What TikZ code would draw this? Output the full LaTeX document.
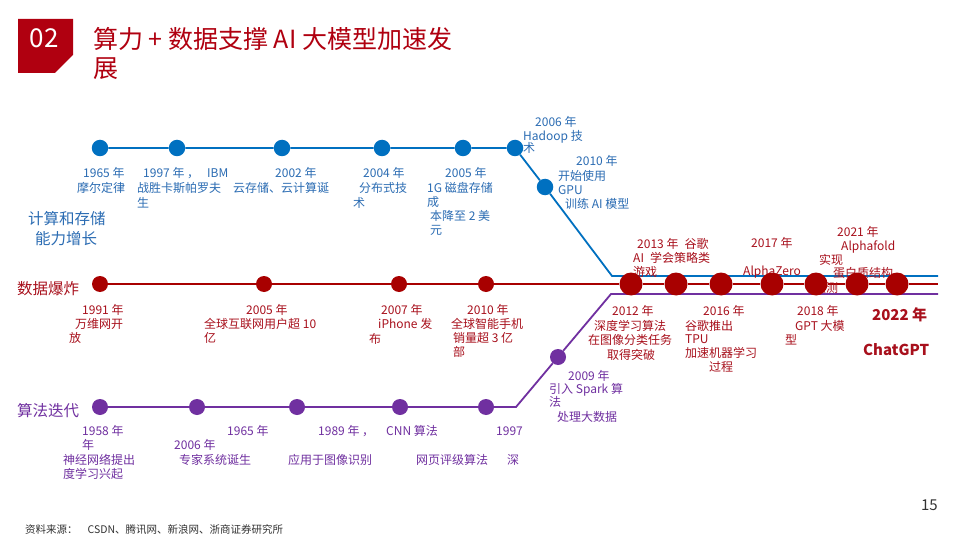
\documentclass[tikz,border=0pt]{standalone}
\usepackage{fontspec}
\setmainfont{Noto Sans CJK SC}
\pgfdeclarelayer{bg}
\pgfsetlayers{bg,main}
\definecolor{cblue}{HTML}{0070C0}
\definecolor{cbluetext}{HTML}{2B6CB3}
\definecolor{cred}{HTML}{A80000}
\definecolor{credtext}{HTML}{A8101C}
\definecolor{cpurple}{HTML}{7030A0}
\definecolor{ctitle}{HTML}{B00010}
\definecolor{cgray}{HTML}{333333}
\begin{document}
\begin{tikzpicture}[x=1pt,y=-1pt,
  lbl/.style={anchor=base west, inner sep=0pt, font=\fontsize{12}{14}\selectfont},
  bl/.style={lbl, text=cbluetext},
  rl/.style={lbl, text=credtext},
  pl/.style={lbl, text=cpurple},
  side/.style={anchor=base west, inner sep=0pt, font=\fontsize{15.5}{18}\selectfont},
  dotb/.style={circle, fill=cblue, minimum size=16.5pt, inner sep=0pt},
  dotr/.style={circle, fill=cred, minimum size=16pt, inner sep=0pt},
  dotbig/.style={circle, fill=cred, minimum size=23pt, inner sep=0pt},
  dotp/.style={circle, fill=cpurple, minimum size=16pt, inner sep=0pt},
  lineb/.style={draw=cblue, line width=1.8pt},
  liner/.style={draw=cred, line width=1.8pt},
  linep/.style={draw=cpurple, line width=1.8pt}]
\useasboundingbox (0,0) rectangle (960,540);
\begin{pgfonlayer}{bg}
\fill[white] (0,0) rectangle (960,540);
\end{pgfonlayer}

% header
\fill[ctitle] (18,19) -- (73,19) -- (73,55) -- (55,73) -- (18,73) -- cycle;
\node[text=white, inner sep=0pt, font=\fontsize{26}{30}\selectfont] (num) at (44,38) {02};
\node[anchor=base west, inner sep=0pt, text=ctitle, font=\fontsize{25}{28}\selectfont] (title1) at (93,49) {算力 + 数据支撑 AI 大模型加速发};
\node[anchor=base west, inner sep=0pt, text=ctitle, font=\fontsize{25}{28}\selectfont] (title2) at (93,78) {展};

% side labels
\node[side, text=cbluetext] (s1a) at (28,224) {计算和存储};
\node[side, text=cbluetext] (s1b) at (35,244) {能力增长};
\node[side, text=credtext] (s2) at (17,294) {数据爆炸};
\node[side, text=cpurple] (s3) at (17,416) {算法迭代};

% blue labels
\node[bl] (b1a) at (83,177.5) {1965 年};
\node[bl] (b1b) at (77,192.5) {摩尔定律};
\node[bl] (b2a) at (143,177.5) {1997 年 ，\hspace{8pt}IBM};
\node[bl] (b2b) at (137,192.5) {战胜卡斯帕罗夫};
\node[bl] (b2c) at (137,207.5) {生};
\node[bl] (b3a) at (275,177.5) {2002 年};
\node[bl] (b3b) at (233,192.5) {云存储、云计算诞};
\node[bl] (b4a) at (363,177.5) {2004 年};
\node[bl] (b4b) at (359,192.5) {分布式技};
\node[bl] (b4c) at (353,207.5) {术};
\node[bl] (b5a) at (445,177.5) {2005 年};
\node[bl] (b5b) at (427,192.5) {1G 磁盘存储};
\node[bl] (b5c) at (427,206.5) {成};
\node[bl] (b5d) at (430,220.5) {本降至 2 美};
\node[bl] (b5e) at (430,234.5) {元};
\node[bl] (b6a) at (535,126.5) {2006 年};
\node[bl] (b6b) at (523,140.5) {Hadoop 技};
\node[bl] (b6c) at (523,152.5) {术};
\node[bl] (b7a) at (576,166) {2010 年};
\node[bl] (b7b) at (558,180) {开始使用};
\node[bl] (b7c) at (558,194) {GPU};
\node[bl] (b7d) at (565,208.5) {训练 AI 模型};

% red labels
\node[rl] (r1a) at (82,314.5) {1991 年};
\node[rl] (r1b) at (75,328.5) {万维网开};
\node[rl] (r1c) at (69,342.5) {放};
\node[rl] (r2a) at (246,314.5) {2005 年};
\node[rl] (r2b) at (204,328.5) {全球互联网用户超 10};
\node[rl] (r2c) at (204,342.5) {亿};
\node[rl] (r3a) at (381,314.5) {2007 年};
\node[rl] (r3b) at (378,328.5) {iPhone 发};
\node[rl] (r3c) at (369,343) {布};
\node[rl] (r4a) at (467,314.5) {2010 年};
\node[rl] (r4b) at (451,328.5) {全球智能手机};
\node[rl] (r4c) at (453,342.5) {销量超 3 亿};
\node[rl] (r4d) at (453,356.5) {部};
\node[rl] (R2a) at (637,248.5) {2013 年\hspace{6pt}谷歌};
\node[rl] (R2b) at (633,262.5) {AI\hspace{6pt}学会策略类};
\node[rl] (R2c) at (633,276.5) {游戏};
\node[rl] (R4a) at (751,247.5) {2017 年};
\node[rl] (R4b) at (743,275.5) {AlphaZero};
\node[rl] (R6a) at (837,236.5) {2021 年};
\node[rl] (R6b) at (841,250.5) {Alphafold};
\node[rl] (R6c) at (819,264.5) {实现};
\node[rl] (R6d) at (833,277.5) {蛋白质结构};
\node[rl] (R6e) at (814,292) {预测};
\node[rl] (R1a) at (612,315.5) {2012 年};
\node[rl] (R1b) at (594,330.5) {深度学习算法};
\node[rl] (R1c) at (588,344.5) {在图像分类任务};
\node[rl] (R1d) at (607,359) {取得突破};
\node[rl] (R3a) at (703,315.5) {2016 年};
\node[rl] (R3b) at (685,330) {谷歌推出};
\node[rl] (R3c) at (685,343) {TPU};
\node[rl] (R3d) at (685,357.5) {加速机器学习};
\node[rl] (R3e) at (709,371.5) {过程};
\node[rl] (R5a) at (797,315.5) {2018 年};
\node[rl] (R5b) at (795,330.5) {GPT 大模};
\node[rl] (R5c) at (785,344.5) {型};
\node[rl, font=\fontsize{15}{18}\selectfont\bfseries] (R7a) at (872,320.5) {2022 年};
\node[rl, font=\fontsize{15}{18}\selectfont\bfseries] (R7b) at (863,355.5) {ChatGPT};

% purple labels
\node[pl] (p1a) at (82,435.5) {1958 年};
\node[pl] (p1b) at (82,449.5) {年};
\node[pl] (p1c) at (63,464.5) {神经网络提出};
\node[pl] (p1d) at (63,478.5) {度学习兴起};
\node[pl] (p2a) at (174,449.5) {2006 年};
\node[pl] (p2b) at (179,464.5) {专家系统诞生};
\node[pl] (p3a) at (227,435.5) {1965 年};
\node[pl] (p3b) at (318,435.5) {1989 年 ，};
\node[pl] (p3c) at (288,464.5) {应用于图像识别};
\node[pl] (p4a) at (386,435.5) {CNN 算法};
\node[pl] (p4b) at (416,464.5) {网页评级算法};
\node[pl] (p5a) at (496,435.5) {1997};
\node[pl] (p5b) at (507,464.5) {深};
\node[pl] (p6a) at (568,380.5) {2009 年};
\node[pl] (p6b) at (549,393.5) {引入 Spark 算};
\node[pl] (p6c) at (549,406.5) {法};
\node[pl] (p6d) at (557,421.5) {处理大数据};

% footer
\node[anchor=base west, inner sep=0pt, text=cgray, font=\fontsize{10.5}{12}\selectfont] (src) at (25,533) {资料来源：\hspace{10pt}CSDN、腾讯网、新浪网、浙商证券研究所};
\node[anchor=base east, inner sep=0pt, text=cgray, font=\fontsize{15}{18}\selectfont] (page) at (938,510.5) {15};

% dots
\node[dotb] (b1) at (100,148) {};
\node[dotb] (b2) at (177,148) {};
\node[dotb] (b3) at (282,148) {};
\node[dotb] (b4) at (382,148) {};
\node[dotb] (b5) at (463,148) {};
\node[dotb] (b6) at (515,148) {};
\node[dotb] (b7) at (545,187) {};
\coordinate (bk) at (612,276);
\coordinate (be) at (938,276);

\node[dotr] (r1) at (100,284) {};
\node[dotr] (r2) at (264,284) {};
\node[dotr] (r3) at (399,284) {};
\node[dotr] (r4) at (486,284) {};
\node[dotbig] (R1) at (631,284) {};
\node[dotbig] (R2) at (676,284) {};
\node[dotbig] (R3) at (721,284) {};
\node[dotbig] (R4) at (772,284) {};
\node[dotbig] (R5) at (816,284) {};
\node[dotbig] (R6) at (857,284) {};
\node[dotbig] (R7) at (897,284) {};
\coordinate (re) at (938,284);

\node[dotp] (p1) at (100,407) {};
\node[dotp] (p2) at (197,407) {};
\node[dotp] (p3) at (297,407) {};
\node[dotp] (p4) at (400,407) {};
\node[dotp] (p5) at (486,407) {};
\coordinate (pk1) at (516,407);
\node[dotp] (p6) at (558,357) {};
\coordinate (pk2) at (611,294);
\coordinate (pe) at (938,294);

\begin{pgfonlayer}{bg}
\draw[lineb] (b1) -- (b2) -- (b3) -- (b4) -- (b5) -- (b6) -- (b7) -- (bk) -- (be);
\draw[liner] (r1) -- (r2) -- (r3) -- (r4) -- (R1) -- (R2) -- (R3) -- (R4) -- (R5) -- (R6) -- (R7) -- (re);
\draw[linep] (p1) -- (p2) -- (p3) -- (p4) -- (p5) -- (pk1) -- (p6) -- (pk2) -- (pe);
\end{pgfonlayer}
\end{tikzpicture}
\end{document}
